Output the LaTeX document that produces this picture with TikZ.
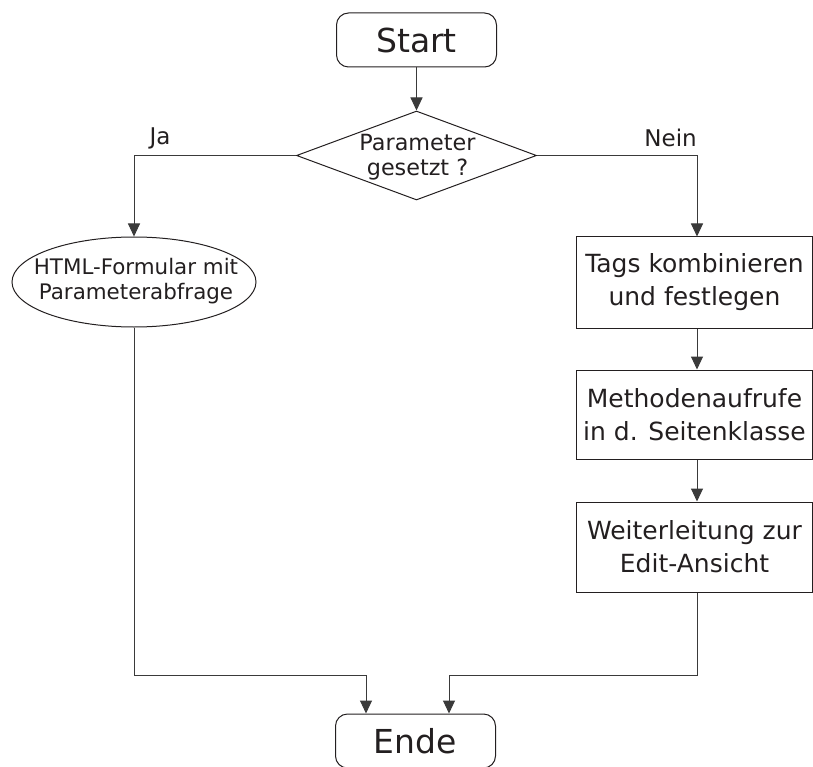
\documentclass[tikz,border=0pt]{standalone}
\usepackage{fontspec}
\setmainfont{DejaVu Sans}
\usetikzlibrary{arrows.meta,shapes.geometric,calc}
\definecolor{ink}{HTML}{231F20}
\definecolor{wire}{HTML}{3A3A3A}
\begin{document}
\begin{tikzpicture}[x=1pt,y=-1pt,
  every node/.style={text=ink},
  terminal/.style={draw=ink,line width=1pt,rounded corners=12pt,minimum width=160pt,minimum height=54pt,inner sep=0pt,font=\fontsize{33}{40}\selectfont},
  procbox/.style={draw=ink,line width=1pt,minimum width=236.5pt,inner sep=0pt,align=center,font=\fontsize{25}{33}\selectfont},
  decision/.style={draw=ink,line width=1pt,diamond,minimum width=240pt,minimum height=89pt,inner sep=0pt},
  ioshape/.style={draw=ink,line width=1pt,ellipse,minimum width=244pt,minimum height=90pt,inner sep=0pt},
  flow/.style={draw=wire,line width=1pt,-{Triangle[width=12pt,length=13pt]}},
  branch/.style={font=\fontsize{23}{28}\selectfont}
]
\useasboundingbox (0,0) rectangle (813,767);

% terminals
\node[terminal] (start) at (416.5,40) {Start};
\node[terminal] (ende) at (415.5,741) {Ende};

% decision
\node[decision] (dec) at (416.5,155.5) {};
\node[align=center,inner sep=0pt,font=\fontsize{22.3}{25}\selectfont] (dectext) at (417.5,157) {Parameter\\gesetzt ?};

% input form
\node[ioshape] (form) at (134,282) {};
\node[align=center,inner sep=0pt,font=\fontsize{21.4}{25}\selectfont] (formtext) at (136,281) {HTML-Formular mit\\Parameterabfrage};

% processing chain
\node[procbox,minimum height=91pt] (b1) at (694.5,282.5) {Tags kombinieren\\und festlegen};
\node[procbox,minimum height=89pt] (b2) at (694.5,414.5) {Methodenaufrufe\\in d. Seitenklasse};
\node[procbox,minimum height=90pt] (b3) at (694.5,547) {Weiterleitung zur\\Edit-Ansicht};

% branch labels
\node[branch] (ja) at (160,138) {Ja};
\node[branch,anchor=east,inner sep=0pt] (nein) at (697,138) {Nein};

% routing points
\coordinate (colR) at (697,0);
\coordinate (mergeL) at (366,675);
\coordinate (mergeR) at (449,675);

% connectors
\draw[flow] (start.south) -- (dec.north);
\draw[flow] (dec.west) -| (form.north);
\draw[flow] (dec.east) -| (b1.north -| colR);
\draw[flow] (b1.south -| colR) -- (b2.north -| colR);
\draw[flow] (b2.south -| colR) -- (b3.north -| colR);
\draw[flow] (form.south) |- (mergeL) -- (mergeL |- ende.north);
\draw[flow] (b3.south -| colR) |- (mergeR) -- (mergeR |- ende.north);
\end{tikzpicture}
\end{document}
